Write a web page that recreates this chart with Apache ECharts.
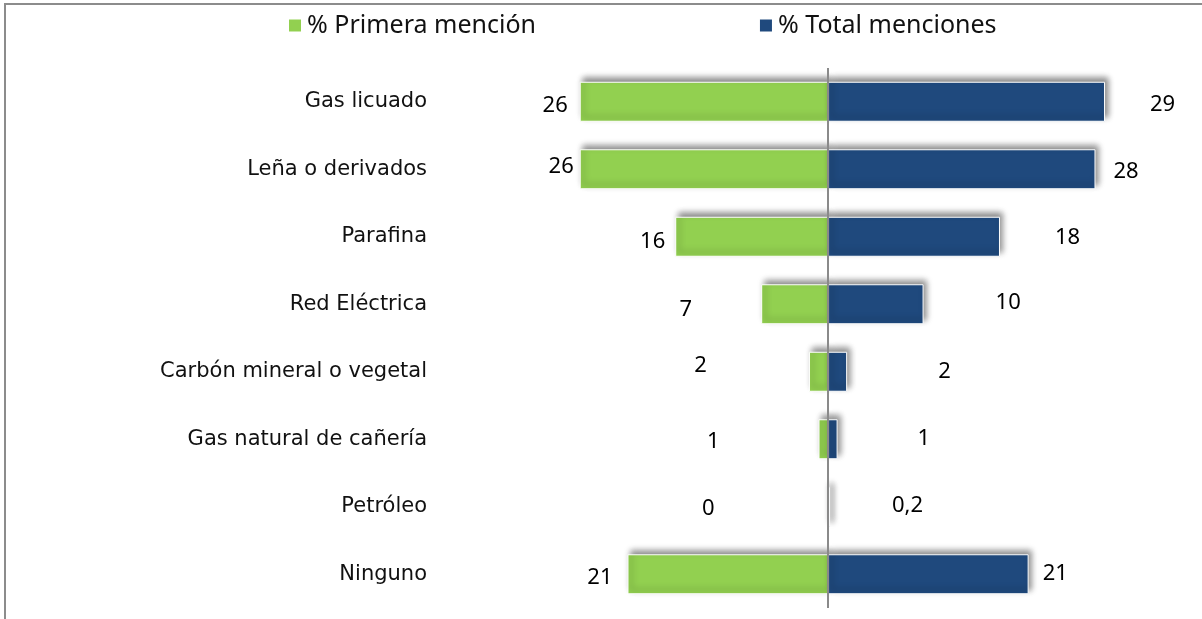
<!DOCTYPE html>
<html>
<head>
<meta charset="utf-8">
<script src="https://cdn.jsdelivr.net/npm/echarts@6/dist/echarts.min.js"></script>
<style>
  html, body { margin: 0; padding: 0; background: #fff; }
  #chart { width: 1202px; height: 619px; }
</style>
</head>
<body>
<div id="chart"></div>
<script>
// datos del gráfico
var categorias = ['Gas licuado', 'Leña o derivados', 'Parafina', 'Red Eléctrica',
    'Carbón mineral o vegetal', 'Gas natural de cañería', 'Petróleo', 'Ninguno'];
var primeraMencion = [26, 26, 16, 7, 2, 1, 0, 21];
var totalMenciones = [29, 28, 18, 10, 2, 1, 0.2, 21];
var nombres = ['% Primera mención', '% Total menciones'];

// desplazamiento de etiquetas (colocadas a mano en el original)
var ajusteVerde = [[-7, 4], [-1, -3], [-5, 5], [-64, 5], [-97, -6], [-94, 2], [-108, 2], [-10, 3]];
var ajusteAzul = [[40, 3], [13, 2], [50, 1], [67, -2], [86, 0], [75, -1], [57, -1], [9, -1]];

var chart = echarts.init(document.getElementById('chart'));

function fmt(p) {
    return String(Math.abs(p.value)).replace('.', ',');
}

var sombra = {
    borderColor: '#fff',
    borderWidth: 1,
    shadowBlur: 6,
    shadowOffsetX: 3,
    shadowOffsetY: -4,
    shadowColor: 'rgba(0,0,0,0.45)'
};

var option = {
    animation: false,
    textStyle: { fontFamily: 'Noto Sans' },
    graphic: [
        { type: 'line', shape: { x1: 4, y1: 4, x2: 1202, y2: 4 }, style: { stroke: '#8c8c8c', lineWidth: 2 } },
        { type: 'line', shape: { x1: 5, y1: 4, x2: 5, y2: 619 }, style: { stroke: '#8c8c8c', lineWidth: 2 } }
    ],
    legend: {
        left: 282,
        top: 8,
        itemGap: 222,
        itemWidth: 14,
        itemHeight: 14,
        icon: 'rect',
        textStyle: { fontSize: 25, color: '#111', fontFamily: 'Noto Sans' },
        data: nombres
    },
    grid: { left: 446, right: 11, top: 68, bottom: 11 },
    xAxis: {
        type: 'value',
        min: -40,
        max: 38,
        show: false
    },
    yAxis: {
        type: 'category',
        inverse: true,
        data: categorias,
        axisLine: { show: false, onZero: false },
        axisTick: { show: false },
        axisLabel: {
            margin: 19,
            fontSize: 21,
            color: '#111',
            fontFamily: 'DejaVu Sans'
        }
    },
    series: [
        {
            name: nombres[0],
            type: 'bar',
            stack: 'total',
            barWidth: 40,
            itemStyle: Object.assign({ color: '#92D050' }, sombra),
            label: {
                show: true, position: 'left', distance: 5,
                fontSize: 22, color: '#000', formatter: fmt
            },
            data: primeraMencion.map(function (v, i) {
                return { value: -v, label: { offset: ajusteVerde[i] } };
            })
        },
        {
            name: nombres[1],
            type: 'bar',
            stack: 'total',
            barWidth: 40,
            itemStyle: Object.assign({ color: '#1F497D' }, sombra),
            label: {
                show: true, position: 'right', distance: 5,
                fontSize: 22, color: '#000', formatter: fmt
            },
            data: totalMenciones.map(function (v, i) {
                return { value: v, label: { offset: ajusteAzul[i] } };
            }),
            markLine: {
                silent: true,
                symbol: 'none',
                label: { show: false },
                lineStyle: { color: '#8a8a8a', width: 2, type: 'solid' },
                data: [{ xAxis: 0 }]
            }
        }
    ]
};
chart.setOption(option);
</script>
</body>
</html>
